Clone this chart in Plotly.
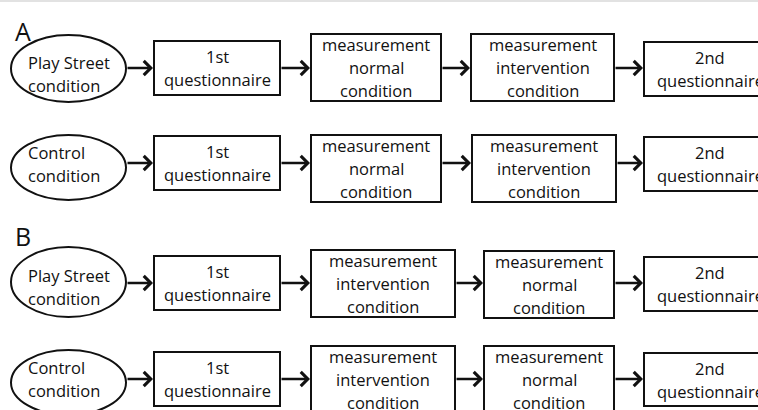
import plotly.graph_objects as go

# ---- content (text) ----
panel_labels = ["A", "B"]
group_labels = ["Play Street<br>condition", "Control<br>condition"]
first_step = "1st<br>questionnaire"
last_step = "2nd<br>questionnaire"
meas_normal = "measurement<br>normal<br>condition"
meas_interv = "measurement<br>intervention<br>condition"
panel_orders = {
    "A": [meas_normal, meas_interv],
    "B": [meas_interv, meas_normal],
}

# ---- layout geometry (pixels in the 758x410 frame) ----
panel_label_y = [31, 236]
# per row: [ellipse, box1, box2, box3, box4] as (x0, x1, y0, y1)
row_geom = [
    [(11, 126, 35, 102), (154, 280, 41, 95), (311, 441, 34, 101), (471, 614, 34, 101), (644, 776, 42, 96)],
    [(11, 126, 135, 200), (154, 280, 136, 190), (311, 441, 135, 202), (472, 616, 135, 202), (644, 776, 137, 191)],
    [(11, 126, 247, 317), (154, 280, 256, 310), (311, 455, 250, 317), (484, 614, 251, 318), (644, 776, 257, 311)],
    [(11, 126, 350, 415), (154, 280, 352, 406), (311, 455, 346, 413), (484, 614, 346, 413), (644, 776, 353, 406)],
]
group_text_dy = [5, -4]
LINE_H = 23

FONT = "'Open Sans', sans-serif"
INK = "#111111"
FS = 16.5

fig = go.Figure()
shapes = []
annotations = []


def add_text_block(text, x, yc, xanchor):
    lines = text.split("<br>")
    n = len(lines)
    for k, line in enumerate(lines):
        annotations.append(dict(x=x, y=yc + (k - (n - 1) / 2) * LINE_H, xref="x", yref="y",
                                text=line, showarrow=False, xanchor=xanchor, yanchor="middle",
                                font=dict(family=FONT, size=FS, color=INK)))


# top hairline
shapes.append(dict(type="line", xref="paper", yref="y", x0=0, x1=1, y0=1, y1=1,
                   line=dict(color="#e2e2e2", width=2)))

for p, plabel in enumerate(panel_labels):
    annotations.append(dict(x=13, y=panel_label_y[p], xref="x", yref="y", text=plabel,
                            showarrow=False, xanchor="left", yanchor="middle",
                            font=dict(family=FONT, size=25, color=INK)))
    for g, glabel in enumerate(group_labels):
        r = p * 2 + g
        geom = row_geom[r]
        texts = [glabel, first_step] + panel_orders[plabel] + [last_step]
        # nodes
        for i, (x0, x1, y0, y1) in enumerate(geom):
            if i == 0:
                shapes.append(dict(type="circle", xref="x", yref="y", x0=x0, x1=x1, y0=y0, y1=y1,
                                   line=dict(color=INK, width=2), fillcolor="white"))
                add_text_block(texts[i], 26, (y0 + y1) / 2 + group_text_dy[g], "left")
            else:
                shapes.append(dict(type="rect", xref="x", yref="y", x0=x0, x1=x1, y0=y0, y1=y1,
                                   line=dict(color=INK, width=2), fillcolor="white"))
                add_text_block(texts[i], (x0 + x1) / 2 if i < 4 else 710, (y0 + y1) / 2, "center")
        # arrows between consecutive nodes
        yc = (geom[1][2] + geom[1][3]) / 2
        for i in range(len(geom) - 1):
            tail = geom[i][1]
            head = geom[i + 1][0]
            annotations.append(dict(x=head - 1, y=yc, ax=tail, ay=yc, xref="x", yref="y",
                                    axref="x", ayref="y", text="", showarrow=True,
                                    arrowhead=4, arrowsize=1.05, arrowwidth=2.6,
                                    arrowcolor=INK, standoff=0, startstandoff=0))

fig.update_layout(
    width=758, height=410,
    margin=dict(l=0, r=0, t=0, b=0),
    paper_bgcolor="white", plot_bgcolor="white",
    xaxis=dict(range=[0, 758], visible=False, fixedrange=True),
    yaxis=dict(range=[410, 0], visible=False, fixedrange=True),
    shapes=shapes, annotations=annotations,
    showlegend=False,
)
fig.write_html("out.html", config={"displayModeBar": False},
               post_script="document.body.style.margin='0';document.body.style.overflow='hidden';")
